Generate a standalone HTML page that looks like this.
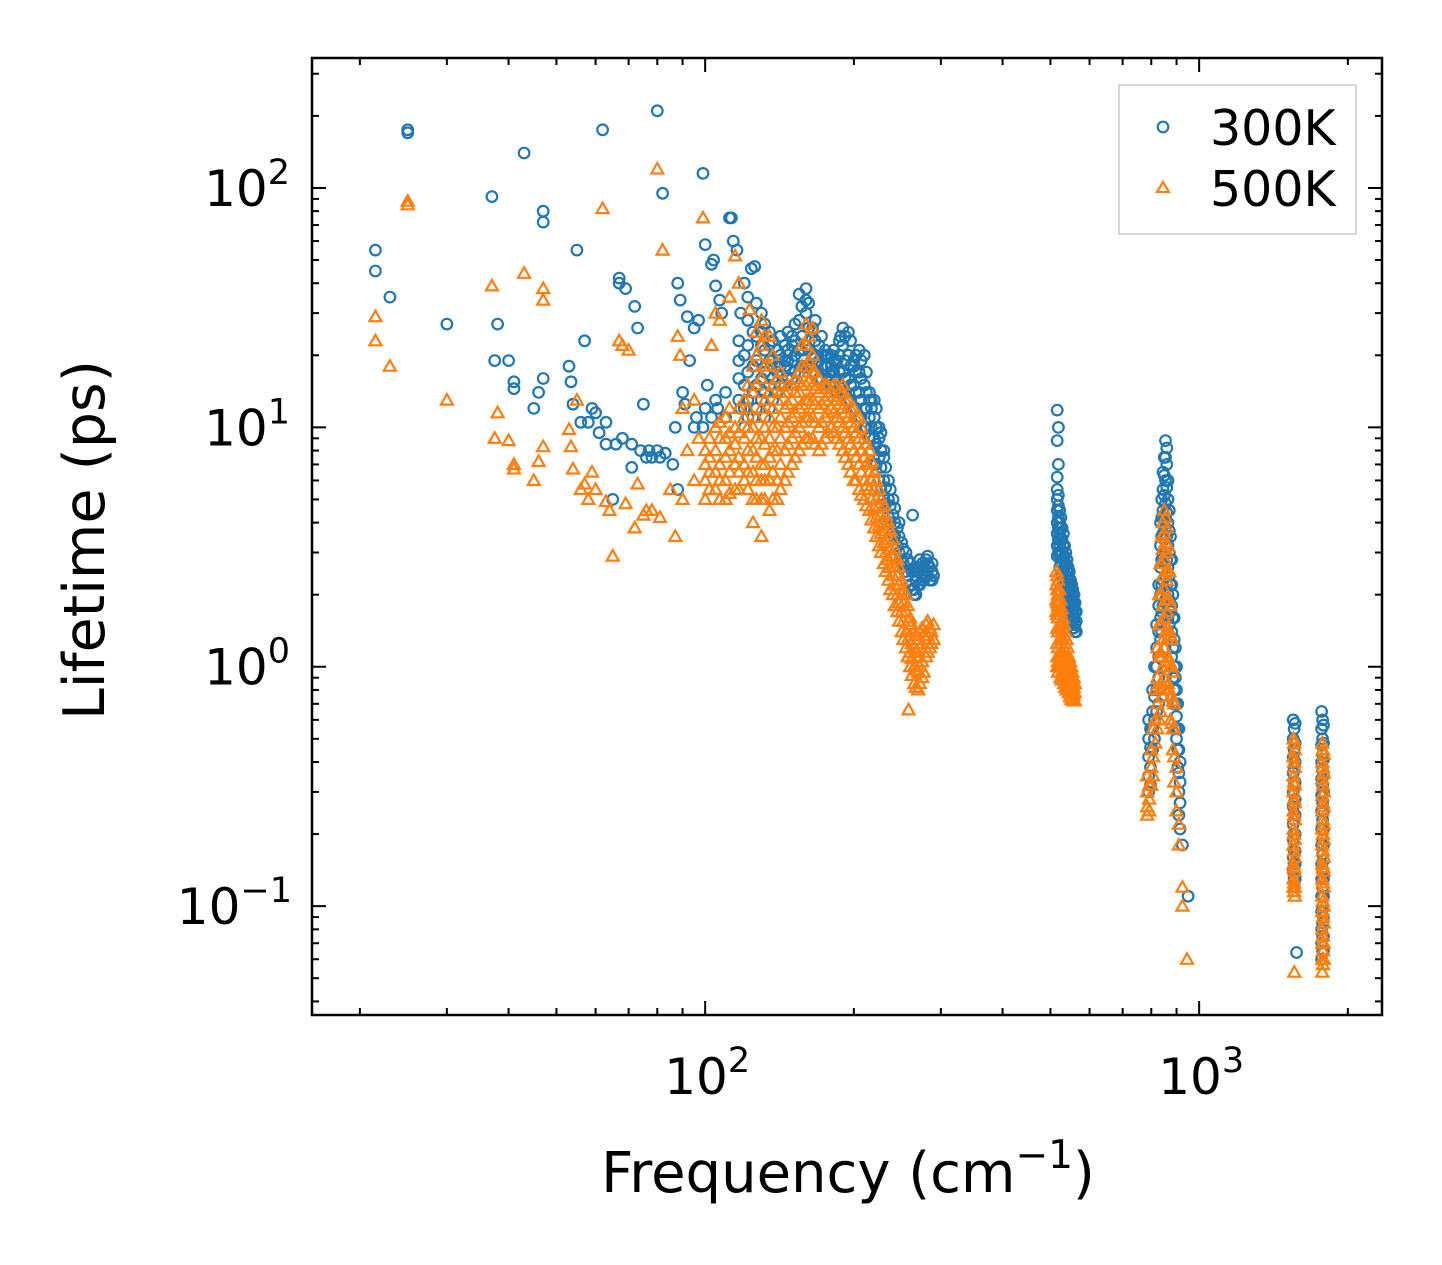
<!DOCTYPE html>
<html><head><meta charset="utf-8"><style>
html,body{margin:0;padding:0;background:#fff}
svg{display:block;font-family:"DejaVu Sans","Liberation Sans",sans-serif}
</style></head><body>
<svg id="chart" width="1442" height="1265" viewBox="0 0 1442 1265" xmlns="http://www.w3.org/2000/svg">
<rect width="1442" height="1265" fill="#fff"/>
<g id="marks"></g>
<g id="axes"></g>
<text x="848" y="1192" font-size="56" text-anchor="middle">Frequency (cm<tspan dy="-24" font-size="39">−1</tspan><tspan dy="24">)</tspan></text>
<text transform="translate(104,540) rotate(-90)" font-size="57" text-anchor="middle">Lifetime (ps)</text>
<g>
<rect x="1119" y="85" width="237" height="149" fill="#fff" stroke="#ccc" stroke-width="1.5"/>
<circle cx="1163" cy="127" r="5.3" fill="none" stroke="#1f77b4" stroke-width="2.2"/>
<text x="1210" y="145" font-size="49">300K</text>
<path d="M1163,182 L1169,192 L1157,192 Z" fill="none" stroke="#ff7f0e" stroke-width="2.2"/>
<text x="1210" y="206" font-size="49">500K</text>
</g>
</svg>
<script>
const xTicksMajor=[100,1000];
const xTickLabels=["2","3"];
const yTicksMajor=[0.1,1,10,100];
const yTickLabels=["−1","0","1","2"];
const rows300=[[21.5,55,45],[23,35],[25,175,170],[30,27],[37,92],[37.5,19],[38,27],[40,19],[41,15.5,14.5],[43,140],[45,12],[46,14],[47,80,72,16],[53,18],[53.5,15.5],[54,12.5],[55,55],[56,10.5],[57,23],[58,10.5],[59,12],[60,11.5],[61,9.5],[62,175],[63,8.5,10.5],[65,5],[66,8.5],[67,42,40],[68,9],[69,38],[71,8.5,6.8],[72,32],[73,26],[74,8],[75,12.5],[76,7.5],[77,8],[78,7.5],[80,210,8],[81,7.5],[82,95],[83,7.8],[86,7],[87,10],[88,40,5.5],[89,34],[90,14],[91,12.5],[92,29],[93,19],[95,26,10],[96,11],[97,28],[99,115,10],[100,58,12],[101,15],[103,48,11],[104,50],[105,39,13],[106,12],[107,34],[108,30],[110,14,11],[112,75],[113,75],[114,60],[116,55],[118,30,12],[120,12,10,15,20,40],[122,35],[124,46],[126,47],[125,14,11,18,25],[130,13,16,22,30,25],[135,12,15,19,25,22],[140,14,17,21,18],[145,15,18,22,19],[150,16,19,24,22],[155,17,21,28,36],[160,18,22,30,38,34],[165,17,20,25,26],[170,16,19,22],[175,15,18,21,20],[180,15,17,20,18],[185,14,16,19],[188,24],[190,14,17,22,26],[195,13,16,20,25],[200,12,15,19,18],[205,11,14,17,21],[210,10,12,15,20],[215,9,11,13,14],[220,7,9,11,13],[225,6,7.5,9,10],[230,5,6,7.5,8],[235,4.2,5,6],[240,3.6,4.3,5],[245,3.2,3.8],[250,2.8,3.3],[255,2.5,3],[260,2.2,2.7],[263,4.3],[265,2.1,2.5,2],[270,2.2,2.6],[275,2.3,2.7],[280,2.4,2.8],[285,2.3,2.6],[290,2.4],
[117,13,16,19,23],[122,11,13,17,22,28],[127,12,15,19,24,33],[132,11,14,17,21,27],[137,13,16,19,23],[142,15,18,20,24],[147,16,19,21,25],[152,17,20,23,27],[157,18,21,24,32],[162,18,21,26,33],[167,17,20,23,28],[172,16,18,20,24],[177,16,18,20],[182,15,17,19,21],[187,15,17,20,23],[192,14,16,19,24],[197,13,15,18,23],[202,12,14,17,20],[207,11,13,16,19],[212,10,12,14,17],[217,8,10,12,13],[222,7,8.5,10,12],[227,5.5,6.8,8,9.5],[232,4.8,5.6,6.8],[237,4,4.7,5.5],[242,3.5,4,4.6],[247,3,3.5,4],[252,2.7,3.1],[257,2.4,2.8],[262,2.1,2.5],[267,2,2.3,2.6],[272,2.2,2.5,2.8],[277,2.3,2.6],[282,2.4,2.7,2.9],[288,2.3,2.5,2.7],
[516,11.8,8.8,6.2,5.5,5,4.5,4,3.6,3.2,2.9],[522,4.5,4,3.6,3.2,2.9,2.6],[528,3.8,3.4,3,2.7,2.4],[534,3.2,2.9,2.6,2.3,2.1],[540,2.8,2.5,2.2,2,1.8],[546,2.5,2.2,2,1.8,1.6],[552,2.2,2,1.8,1.6,1.5],[558,2,1.8,1.6,1.45],[564,1.7,1.55,1.4],
[519,10,7,5.2,4.7,4.2,3.8,3.4,3],[525,4.2,3.8,3.4,3,2.7],[531,3.6,3.2,2.8,2.5,2.3],[537,3,2.7,2.4,2.2,2],[543,2.6,2.3,2.1,1.9,1.7],[549,2.3,2.1,1.9,1.7,1.55],[555,2.1,1.9,1.7,1.55,1.45],[561,1.85,1.7,1.5,1.4],
[790,0.6,0.5,0.42,0.35,0.3],[805,0.8,0.65,0.55,0.45],[820,1.5,1.2,1,0.8,0.65],[835,4,3.2,2.6,2,1.6,1.3],[845,6.5,5.5,4.5,3.6,2.9,2.3,1.8],[855,8.8,7.5,6,4.8,3.8,3,2.4,1.9],[865,6,5,4,3.2,2.6,2,1.6],[875,3.5,2.8,2.2,1.7,1.3],[885,2,1.6,1.2,0.9,0.7],[895,1.2,0.9,0.7,0.55],[905,0.7,0.55,0.45,0.38],[915,0.4,0.33,0.27,0.21],[925,0.18],[950,0.11],
[797,0.55,0.46,0.38,0.32],[812,1,0.75,0.6,0.5],[828,2.2,1.8,1.4,1.1,0.9,0.7],[840,5,4.2,3.5,2.8,2.2,1.7,1.4],[850,7.5,6.3,5.2,4.2,3.4,2.7,2.1],[860,8.2,7,5.6,4.4,3.5,2.8,2.2],[870,4.5,3.7,3,2.4,1.9,1.5],[880,2.8,2.2,1.8,1.4,1.1],[890,1.6,1.3,1,0.8],[900,1,0.8,0.62,0.5],[910,0.55,0.45,0.36,0.3,0.24],
[1550,0.6,0.5,0.42,0.36,0.3,0.26,0.22,0.19,0.16,0.14],[1565,0.58,0.48,0.4,0.33,0.28,0.24,0.2,0.17,0.15,0.13],[1575,0.064],[1557,0.55,0.45,0.38,0.32,0.27,0.23,0.2,0.17,0.15,0.13,0.12],
[1770,0.65,0.55,0.47,0.4,0.34,0.29,0.25,0.21,0.18,0.15,0.13,0.11,0.095,0.08,0.07,0.06],[1785,0.57,0.48,0.41,0.35,0.3,0.25,0.21,0.18,0.155,0.13,0.11,0.09,0.075,0.065],[1778,0.6,0.5,0.43,0.37,0.32,0.27,0.23,0.19,0.165,0.14,0.12,0.1,0.085,0.075,0.065]];
const rows500=[[21.5,29,23],[23,18],[25,88,85],[30,13],[37,39],[37.5,9],[38,11.5],[40,8.8],[41,7,6.7],[43,44],[45,6],[46,7.2],[47,38,34,8.3],[53,9.8],[53.5,8.3],[54,6.7],[55,13],[56,5.5],[57,5.8],[58,5],[59,6.5],[60,5.5],[62,82],[63,4.9],[64,4.5],[65,2.9],[67,23],[68,22],[69,4.8],[70,21],[72,3.8],[73,5.8],[75,4.3],[76,4.5],[78,4.5],[80,120],[81,4.2],[82,55],[85,5.5],[87,3.5],[88,24],[89,20],[90,12,5],[92,8],[95,13,6],[97,9],[99,75],[103,22],[105,30],[107,28],[112,35],[115,52],[117,40],[123,31],
[100,5,6,7,8],[105,5.5,6.5,8,10],[110,5,6,7.5,9,11],[115,5.5,7,8.5,10],[120,6,7,9,11,13],[125,5,6.5,8,10,14,18,4],[130,5,6,7,9,12,16,22,28,3.5],[135,4.5,6,7.5,9,11,14,18,24],[140,5,6,8,10,13,16],[145,6,8,10,12,14],[150,7,9,11,13,15],[155,8,10,12,14,17],[160,9,11,13,15,18,22,27],[165,9,11,13,15,17,20,26],[170,8,10,12,14,16],[175,9,11,13,15],[180,10,12,14],[185,9,11,13,15],[190,8,10,12,14,15],[195,7,9,11,13],[200,6,8,10,12],[205,5.5,7,9,11],[210,5,6,7.5,9],[215,4.5,5.5,6.5,8],[220,3.8,4.6,5.5,6.5],[225,3.2,3.9,4.7,5.5],[230,2.7,3.3,4,4.7],[235,2.3,2.8,3.4,4],[240,2,2.4,2.9,3.4],[245,1.7,2,2.4,2.8],[250,1.4,1.7,2,2.3],[255,1.2,1.4,1.7,2],[258,0.66],[260,1,1.15,1.35,1.6],[265,0.85,1,1.2,1.4],[270,0.8,0.95,1.1,1.3],[275,0.9,1.05,1.25,1.45],[280,1.1,1.3,1.5],[285,1.2,1.45],[290,1.3,1.5],
[102,5.5,6.5,7.5,9],[107,5,6,7,9,10.5],[112,5.3,6.5,8,9.5,12],[117,5.5,6.5,7.5,9.5,12],[122,5.5,6.5,8,10,12,15],[127,5,6,7.5,9,11,15,20,25],[132,5,6,7,8.5,10,13,18,24],[137,5,6.5,8,10,12,15,20],[142,5.5,7,9,11,14,17],[147,6.5,8.5,10.5,12.5,15],[152,7.5,9.5,11.5,14,16],[157,8.5,10.5,12.5,15,18,22],[162,9,11,13,15.5,19,24],[167,8.5,10.5,12.5,14.5,17],[172,8.5,10.5,12.5,14.5],[177,9.5,11.5,13.5,15],[182,9.5,11.5,13.5,15],[187,8.5,10.5,12.5,14],[192,7.5,9.5,11.5,13],[197,6.5,8.5,10.5,12],[202,6,7.5,9.5,11],[207,5.2,6.5,8,10],[212,4.7,5.7,7,8.5],[217,4.1,5,6,7.2],[222,3.5,4.2,5,6],[227,3,3.6,4.3,5],[232,2.5,3,3.7,4.3],[237,2.1,2.6,3.1,3.7],[242,1.8,2.2,2.6,3.1],[247,1.55,1.85,2.2,2.6],[252,1.3,1.55,1.85,2.1],[257,1.1,1.3,1.55,1.8],[262,0.92,1.08,1.25,1.5],[267,0.82,0.97,1.15,1.35],[272,0.85,1,1.2,1.4],[277,0.95,1.15,1.35],[282,1.15,1.35,1.55],[287,1.25,1.4],
[514,2.5,2.2,1.9,1.7],[518,2.3,2,1.8,1.6,1.4,1.2,1.05,0.95],[524,1.9,1.7,1.5,1.3,1.15,1,0.9],[530,1.6,1.45,1.3,1.15,1,0.9],[536,1.4,1.25,1.1,1,0.9,0.82],[542,1.2,1.1,1,0.9,0.82],[548,1.05,0.95,0.87,0.8,0.75],[554,0.95,0.87,0.8,0.74],[560,0.85,0.78,0.72],
[516,2.4,2.1,1.85,1.65,1.45,1.25,1.1,1],[521,2.1,1.9,1.7,1.5,1.3,1.1,1],[527,1.75,1.55,1.4,1.25,1.1,0.95,0.88],[533,1.5,1.35,1.2,1.05,0.95,0.85],[539,1.3,1.15,1.05,0.95,0.85,0.8],[545,1.1,1,0.92,0.85,0.78],[551,1,0.9,0.83,0.77,0.73],[557,0.9,0.82,0.76,0.72],
[785,0.35,0.3,0.26,0.24],[800,0.45,0.38,0.32],[815,0.8,0.6,0.48],[830,2,1.5,1.1,0.8,0.6],[840,3.5,2.7,2,1.5,1.1,0.8],[850,4.5,3.6,2.8,2.1,1.6,1.2,0.9],[860,3.8,3,2.3,1.7,1.3,1],[870,2.5,1.9,1.4,1.05,0.8],[880,1.3,1,0.75,0.58],[890,0.7,0.55,0.42,0.33],[900,0.38,0.3,0.25],[910,0.22,0.18],[925,0.12,0.1],[945,0.06],
[792,0.32,0.28,0.25],[807,0.55,0.42,0.35],[823,1.2,0.9,0.7,0.55],[835,2.7,2,1.5,1.15,0.85,0.65],[845,4,3.1,2.4,1.8,1.3,1,0.75],[855,4.2,3.3,2.5,1.9,1.4,1.05,0.8],[865,3.2,2.5,1.9,1.45,1.1,0.85],[875,1.8,1.35,1,0.75,0.6],[885,0.95,0.72,0.55,0.45],
[1552,0.5,0.42,0.35,0.3,0.25,0.21,0.18,0.15,0.13,0.12],[1562,0.45,0.38,0.32,0.27,0.23,0.19,0.16,0.14,0.12,0.11],[1558,0.053],[1557,0.48,0.4,0.33,0.28,0.24,0.2,0.17,0.145,0.125,0.115],
[1775,0.48,0.4,0.34,0.29,0.25,0.21,0.18,0.15,0.13,0.11,0.095,0.08,0.07,0.06,0.053],[1788,0.43,0.36,0.3,0.26,0.22,0.19,0.16,0.14,0.12,0.1,0.085,0.07,0.06],[1781,0.45,0.38,0.32,0.27,0.23,0.2,0.17,0.145,0.125,0.105,0.09,0.075,0.065,0.057]];

const L=312,R=1382,T=58,B=1015;
const X0=Math.log10(16.0),X1=Math.log10(2345);
const Y0=Math.log10(0.0351),Y1=Math.log10(349);
const xs=f=>L+(Math.log10(f)-X0)/(X1-X0)*(R-L);
const ys=v=>B-(Math.log10(v)-Y0)/(Y1-Y0)*(B-T);
const NS="http://www.w3.org/2000/svg";
const marks=document.getElementById('marks'),axes=document.getElementById('axes');
function mk(tag,attrs,parent){const e=document.createElementNS(NS,tag);for(const k in attrs)e.setAttribute(k,attrs[k]);parent.appendChild(e);return e;}
const clip=mk('clipPath',{id:'pc'},marks);mk('rect',{x:L,y:T,width:R-L,height:B-T},clip);
const g3=mk('g',{'clip-path':'url(#pc)'},marks);


rows300.forEach(r=>{for(let i=1;i<r.length;i++){const c=mk('circle',{cx:xs(r[0]).toFixed(1),cy:ys(r[i]).toFixed(1),r:5.3,fill:'none',stroke:'#1f77b4','stroke-width':2.2},g3);

}});
const g5=mk('g',{'clip-path':'url(#pc)'},marks);


rows500.forEach(r=>{for(let i=1;i<r.length;i++){const x=xs(r[0]),y=ys(r[i]);const p=mk('path',{d:`M${x.toFixed(1)},${(y-6).toFixed(1)}L${(x+6).toFixed(1)},${(y+4.5).toFixed(1)}L${(x-6).toFixed(1)},${(y+4.5).toFixed(1)}Z`,fill:'none',stroke:'#ff7f0e','stroke-width':2.2},g5);

}});
const fr=mk('rect',{x:L,y:T,width:R-L,height:B-T,fill:'none',stroke:'#000','stroke-width':2.5},axes);


function tick(x1,y1,x2,y2){mk('line',{x1,y1,x2,y2,stroke:'#000','stroke-width':2},axes);}
for(let d=10;d<=1000;d*=10){for(let m=1;m<10;m++){const f=d*m;const x=xs(f);if(x<L||x>R)continue;const len=m===1?14:7;tick(x,B,x,B-len);tick(x,T,x,T+len);}}
xTicksMajor.forEach((f,i)=>{const t=mk('text',{x:xs(f)+2,y:1094,'font-size':50,'text-anchor':'middle'},axes);


t.innerHTML=`10<tspan dy="-22" font-size="35">${xTickLabels[i]}</tspan>`;});
for(let d=0.01;d<=1000;d*=10){for(let m=1;m<10;m++){const v=d*m;const y=ys(v);if(y<T||y>B)continue;const len=m===1?14:7;tick(L,y,L+len,y);tick(R,y,R-len,y);}}
yTicksMajor.forEach((v,i)=>{const t=mk('text',{x:i===0?292:290,y:ys(v)+18,'font-size':50,'text-anchor':'end'},axes);


t.innerHTML=`10<tspan dy="-22" font-size="35">${yTickLabels[i]}</tspan>`;});
</script>
</body></html>
